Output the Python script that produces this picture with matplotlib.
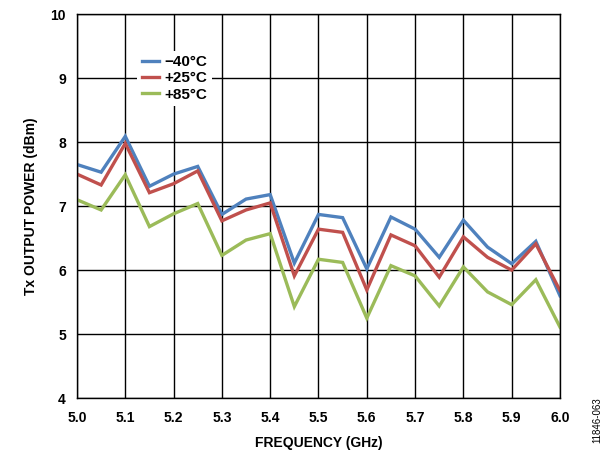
import matplotlib
matplotlib.use("Agg")
import matplotlib.pyplot as plt

freq = [5.00, 5.05, 5.10, 5.15, 5.20, 5.25, 5.30, 5.35, 5.40, 5.45, 5.50,
        5.55, 5.60, 5.65, 5.70, 5.75, 5.80, 5.85, 5.90, 5.95, 6.00]
p_m40 = [7.65, 7.53, 8.09, 7.31, 7.50, 7.62, 6.87, 7.11, 7.18, 6.11, 6.87,
         6.82, 6.02, 6.83, 6.64, 6.20, 6.78, 6.36, 6.10, 6.45, 5.60]
p_25 = [7.50, 7.33, 7.98, 7.21, 7.35, 7.55, 6.77, 6.94, 7.05, 5.91, 6.64,
        6.59, 5.69, 6.55, 6.38, 5.89, 6.52, 6.20, 6.00, 6.41, 5.68]
p_85 = [7.10, 6.94, 7.49, 6.68, 6.88, 7.04, 6.23, 6.47, 6.57, 5.43, 6.17,
        6.12, 5.25, 6.07, 5.91, 5.44, 6.05, 5.66, 5.46, 5.85, 5.11]
labels = ["\u221240\u00b0C", "+25\u00b0C", "+85\u00b0C"]
colors = ["#4F81BD", "#C0504D", "#9BBB59"]

plt.rcParams['font.family'] = ['Liberation Sans', 'DejaVu Sans']

fig = plt.figure(figsize=(6.11, 4.54), dpi=100)
ax = fig.add_axes([0.126, 0.123, 0.7905, 0.846])

for y, lab, c in zip([p_m40, p_25, p_85], labels, colors):
    ax.plot(freq, y, color=c, lw=2.4, label=lab, solid_joinstyle='miter')

ax.set_xlim(5.0, 6.0)
ax.set_ylim(4, 10)
ax.set_xticks([5.0 + 0.1 * i for i in range(11)])
ax.set_xticklabels([f"{5.0 + 0.1 * i:.1f}" for i in range(11)])
ax.set_yticks(range(4, 11))
ax.grid(True, color='black', lw=1.0)
ax.set_axisbelow(True)
for s in ax.spines.values():
    s.set_color('black')
    s.set_linewidth(1.0)
ax.tick_params(axis='x', length=0, pad=9, labelsize=10)
ax.tick_params(axis='y', length=0, pad=8, labelsize=10)
for t in ax.get_xticklabels() + ax.get_yticklabels():
    t.set_fontweight('bold')

ax.set_xlabel("FREQUENCY (GHz)", fontsize=10, fontweight='bold', labelpad=8)
ax.set_ylabel("Tx OUTPUT POWER (dBm)", fontsize=10, fontweight='bold', labelpad=9)

leg = ax.legend(loc='upper left', bbox_to_anchor=(0.125, 0.905), frameon=True,
                handlelength=1.1, handletextpad=0.4, labelspacing=0.15,
                borderpad=0.3, fontsize=11, borderaxespad=0)
leg.get_frame().set_edgecolor('none')
leg.get_frame().set_facecolor('white')
leg.get_frame().set_alpha(1)
for t in leg.get_texts():
    t.set_fontweight('bold')

fig.text(0.978, 0.075, "11846-063", rotation=90, fontsize=7, ha='center', va='center')

fig.savefig("out.png", dpi=100)
